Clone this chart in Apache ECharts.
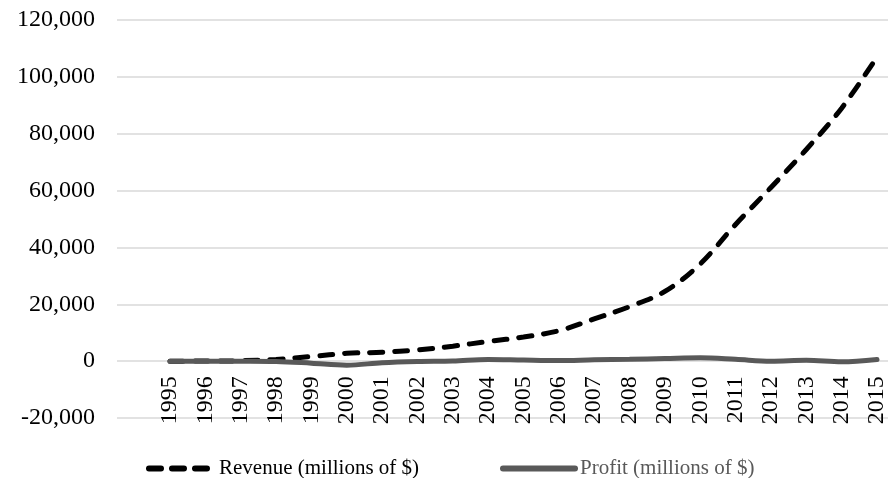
<!DOCTYPE html>
<html><head><meta charset="utf-8">
<script src="https://cdn.jsdelivr.net/npm/echarts@6/dist/echarts.min.js"></script>
<style>html,body{margin:0;padding:0;background:#fff}#c{width:888px;height:478px}</style>
</head><body><div id="c"></div>
<script>
const years = ['1995','1996','1997','1998','1999','2000','2001','2002','2003','2004','2005','2006','2007','2008','2009','2010','2011','2012','2013','2014','2015'];
const revenue = [0.5,15.7,148,610,1640,2762,3122,3933,5264,6921,8490,10711,14835,19166,24509,34204,48077,61093,74452,88988,107006];
const profit = [-0.3,-6,-31,-124,-720,-1411,-567,-149,35,588,359,190,476,645,902,1152,631,-39,274,-241,596];
const yTicks = {min:-20000, max:120000, interval:20000};
const seriesNames = ['Revenue (millions of $)', 'Profit (millions of $)'];

const FONT = 'Liberation Serif';
const TOP = 20, BOTTOM = 60, H = 478;
const zeroOffset = -(H - TOP - BOTTOM) * (0 - yTicks.min) / (yTicks.max - yTicks.min);
const legendBase = {
  top:458, padding:0, itemHeight:14, orient:'horizontal',
  itemStyle:{color:'rgba(0,0,0,0)', borderWidth:0, opacity:0},
  textStyle:{fontFamily:FONT, fontSize:21}
};
const chart = echarts.init(document.getElementById('c'));
chart.setOption({
  animation:false,
  grid:[
    {left:117, right:0, top:TOP, bottom:BOTTOM, containLabel:false, outerBoundsMode:'none'},
    {left:170, right:11, top:TOP, bottom:BOTTOM, containLabel:false, outerBoundsMode:'none'}
  ],
  xAxis:[
    {gridIndex:0, type:'category', data:years, show:false},
    {gridIndex:1, type:'category', data:years, boundaryGap:false, position:'bottom', offset:zeroOffset,
     axisLine:{show:false, onZero:false}, axisTick:{show:false},
     axisLabel:{rotate:90, margin:15, fontFamily:FONT, fontSize:24, color:'#000'}}
  ],
  yAxis:[
    {gridIndex:0, type:'value', min:yTicks.min, max:yTicks.max, interval:yTicks.interval,
     axisLine:{show:false}, axisTick:{show:false},
     splitLine:{lineStyle:{color:'#d9d9d9', width:1.5}},
     axisLabel:{margin:22, fontFamily:FONT, fontSize:24, color:'#000',
       formatter:v=>v.toLocaleString('en-US')}},
    {gridIndex:1, type:'value', min:yTicks.min, max:yTicks.max, interval:yTicks.interval,
     axisLine:{show:false}, axisTick:{show:false}, axisLabel:{show:false}, splitLine:{show:false}}
  ],
  legend:[
    Object.assign({}, legendBase, {left:146, itemWidth:65,
      lineStyle:{width:6, type:[12,11], cap:'round', color:'#000'},
      data:[{name:seriesNames[0], textStyle:{color:'#000'}}]}),
    Object.assign({}, legendBase, {left:500, itemWidth:72,
      lineStyle:{width:6, cap:'round', color:'#595959'},
      data:[{name:seriesNames[1], textStyle:{color:'#595959'}}]})
  ],
  series:[
    {name:seriesNames[0], type:'line', xAxisIndex:1, yAxisIndex:1, data:revenue,
     smooth:0.35, symbol:'none', color:'#000',
     lineStyle:{color:'#000', width:5, type:[13,12], cap:'round'}},
    {name:seriesNames[1], type:'line', xAxisIndex:1, yAxisIndex:1, data:profit,
     smooth:0.35, symbol:'none', color:'#595959',
     lineStyle:{color:'#595959', width:5, cap:'round'}}
  ]
});
</script></body></html>
